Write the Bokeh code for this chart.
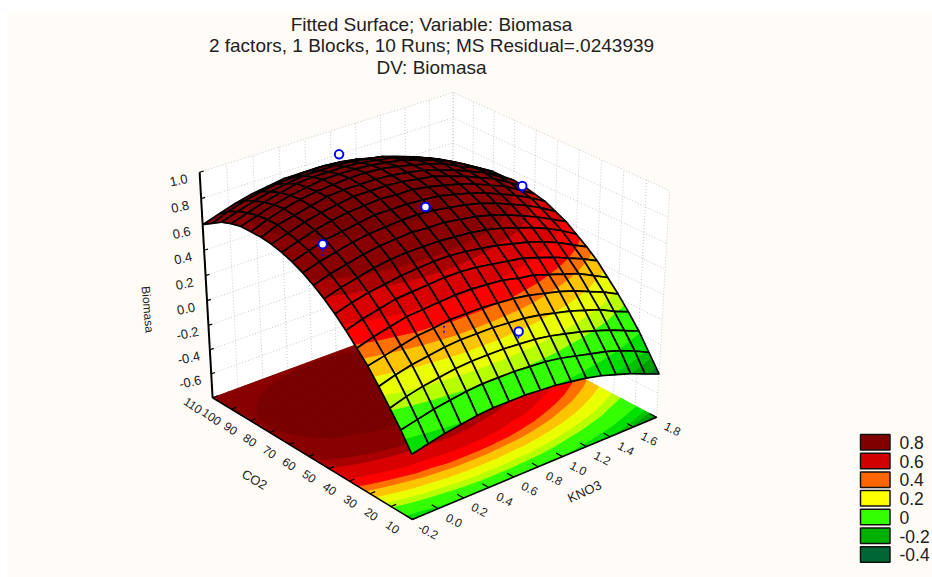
import numpy as np
from bokeh.plotting import figure
from bokeh.models import Range1d, ColumnDataSource
from bokeh.core.properties import value
from bokeh.embed import file_html
from bokeh.resources import INLINE

title_lines = ["Fitted Surface; Variable: Biomasa",
               "2 factors, 1 Blocks, 10 Runs; MS Residual=.0243939",
               "DV: Biomasa"]
kno3_ticks = [-0.2, 0.0, 0.2, 0.4, 0.6, 0.8, 1.0, 1.2, 1.4, 1.6, 1.8]
co2_ticks = [110, 100, 90, 80, 70, 60, 50, 40, 30, 20, 10]
z_ticks = [1.0, 0.8, 0.6, 0.4, 0.2, 0.0, -0.2, -0.4, -0.6]
kno3_grid = [-0.2, -0.075, 0.05, 0.175, 0.3, 0.425, 0.55, 0.675, 0.8, 0.925, 1.05, 1.175, 1.3, 1.425, 1.55, 1.675, 1.8]
co2_grid = [10, 15, 20, 25, 30, 35, 40, 45, 50, 55, 60, 65, 70, 75, 80, 85, 90, 95, 100, 105, 110]
# fitted biomass: one row per CO2 grid value, one column per KNO3 grid value
biomasa = [
 [-.28,-.25,-.22,-.20,-.18,-.17,-.17,-.17,-.18,-.19,-.21,-.23,-.26,-.30,-.34,-.39,-.44],
 [-.14,-.11,-.08,-.06,-.04,-.03,-.03,-.03,-.04,-.05,-.07,-.10,-.13,-.16,-.20,-.25,-.31],
 [-.02,.02,.05,.07,.09,.10,.10,.10,.09,.08,.06,.03,.00,-.04,-.08,-.13,-.18],
 [.10,.14,.17,.19,.21,.22,.22,.22,.21,.20,.18,.15,.12,.08,.04,-.02,-.07],
 [.21,.24,.27,.30,.31,.33,.33,.33,.32,.31,.29,.26,.23,.19,.14,.09,.03],
 [.30,.34,.37,.40,.41,.42,.43,.43,.42,.41,.38,.36,.32,.28,.24,.18,.12],
 [.39,.43,.46,.49,.50,.51,.52,.52,.51,.49,.47,.45,.41,.37,.32,.27,.21],
 [.47,.51,.54,.56,.58,.59,.60,.60,.59,.57,.55,.52,.49,.45,.40,.34,.28],
 [.54,.58,.61,.64,.66,.67,.67,.67,.66,.65,.63,.60,.56,.52,.47,.41,.34],
 [.60,.64,.67,.70,.72,.73,.74,.73,.73,.71,.69,.66,.62,.57,.52,.46,.40],
 [.65,.69,.72,.75,.77,.78,.79,.79,.78,.76,.74,.71,.67,.62,.57,.51,.44],
 [.69,.73,.77,.79,.81,.83,.83,.83,.82,.81,.78,.75,.71,.66,.61,.55,.48],
 [.72,.76,.80,.83,.85,.86,.87,.86,.86,.84,.81,.78,.74,.69,.64,.57,.50],
 [.74,.78,.82,.85,.87,.89,.89,.89,.88,.86,.84,.80,.76,.71,.66,.59,.52],
 [.75,.80,.83,.86,.89,.90,.90,.90,.89,.87,.85,.81,.77,.72,.67,.60,.53],
 [.75,.80,.84,.87,.89,.90,.91,.91,.90,.88,.85,.82,.78,.72,.67,.60,.52],
 [.75,.79,.83,.86,.88,.90,.90,.90,.89,.87,.85,.81,.77,.72,.66,.59,.52],
 [.73,.77,.81,.84,.87,.88,.88,.88,.87,.85,.83,.79,.75,.70,.64,.57,.50],
 [.70,.74,.78,.81,.83,.85,.85,.85,.84,.82,.80,.76,.72,.67,.61,.54,.47],
 [.65,.70,.74,.77,.79,.80,.81,.81,.80,.78,.75,.72,.68,.62,.57,.50,.42],
 [.60,.64,.68,.71,.73,.75,.75,.75,.74,.72,.70,.66,.62,.57,.51,.44,.37],
]
band_edges = [-.40, -.34, -.29, -.19, -.03, .05, .155, .25, .32, .42, .55, .62, .77]
band_colors = ["#007a2a", "#00a000", "#00c000", "#00e000", "#33ff00", "#b8ff00", "#eaff00",
               "#ffc400", "#ff7000", "#ff0000", "#d80000", "#a80000", "#880000", "#780000"]
legend_labels = ["0.8", "0.6", "0.4", "0.2", "0", "-0.2", "-0.4"]
legend_colors = ["#800000", "#d00000", "#ff6600", "#ffff00", "#33ff00", "#00b000", "#006633"]
pt_kno3 = [0.09, 0.82, 0.74, 1.73, 0.83]
pt_co2 = [69, 65, 102, 72, 22]
pt_z = [0.69, 0.76, 0.90, 0.57, 0.16]
stem_low = [0.60, 0.73, 0.90, 0.49, 0.08]
hidden_kno3 = [0.38]
hidden_co2 = [30]
hidden_top = [0.30]
hidden_low = [0.24]

# perspective of the box, from its corners on the page
KMIN, KMAX, CMIN, CMAX, ZMIN, ZMAX = -0.2, 1.8, 10, 110, -0.8, 1.0
corners3 = [(0, 1, 0), (0, 0, 0), (1, 0, 0), (0, 1, 1), (1, 0, 1), (1, 1, 1)]
corners2 = [(212, 397), (412, 519), (656, 417), (199, 172), (669, 190), (453, 92)]
rows, rhs = [], []
for (u, v, w), (X, Y) in zip(corners3, corners2):
    rows.append([u, v, w, 1, 0, 0, 0, 0, -X*u, -X*v, -X*w]); rhs.append(X)
    rows.append([0, 0, 0, 0, u, v, w, 1, -Y*u, -Y*v, -Y*w]); rhs.append(Y)
sol = np.linalg.lstsq(np.array(rows, float), np.array(rhs, float), rcond=None)[0]
M = np.append(sol, 1.0).reshape(3, 4)

def proj(k, c, z):
    h = M @ np.array([(k-KMIN)/(KMAX-KMIN), (c-CMIN)/(CMAX-CMIN), (z-ZMIN)/(ZMAX-ZMIN), 1.0])
    return h[0]/h[2], h[1]/h[2]

def clip(poly, level, above):
    out = []
    n = len(poly)
    for i in range(n):
        a, b = poly[i], poly[(i+1) % n]
        ia = a[2] >= level if above else a[2] <= level
        ib = b[2] >= level if above else b[2] <= level
        if ia:
            out.append(a)
        if ia != ib:
            t = (level-a[2])/(b[2]-a[2])
            out.append((a[0]+t*(b[0]-a[0]), a[1]+t*(b[1]-a[1]), level))
    return out

def band_polys(poly):
    res = []
    edges = [-9] + band_edges + [9]
    for i, col in enumerate(band_colors):
        q = clip(poly, edges[i], True)
        if len(q) >= 3:
            q = clip(q, edges[i+1], False)
        if len(q) >= 3:
            res.append((q, col))
    return res

p = figure(width=932, height=577, x_range=Range1d(0, 932), y_range=Range1d(577, 0),
           x_axis_type=None, y_axis_type=None, toolbar_location=None, output_backend="svg",
           min_border=0, background_fill_color="#fffcf8", border_fill_color="#fffcf8",
           outline_line_color=None)

# white margin of the picture
p.quad(left=[0, 0], right=[932, 7], top=[0, 0], bottom=[12, 577], fill_color="white", line_color=None)

# walls
wl = [proj(KMIN, CMAX, ZMIN), proj(KMIN, CMAX, ZMAX), proj(KMAX, CMAX, ZMAX), proj(KMAX, CMAX, ZMIN)]
wr = [proj(KMAX, CMAX, ZMIN), proj(KMAX, CMAX, ZMAX), proj(KMAX, CMIN, ZMAX), proj(KMAX, CMIN, ZMIN)]
p.patches([[a[0] for a in wl], [a[0] for a in wr]], [[a[1] for a in wl], [a[1] for a in wr]],
          fill_color="white", line_color=None)
gx, gy = [], []
for k in kno3_ticks:
    a, b = proj(k, CMAX, ZMIN), proj(k, CMAX, ZMAX)
    gx.append([a[0], b[0]]); gy.append([a[1], b[1]])
for c in co2_ticks:
    a, b = proj(KMAX, c, ZMIN), proj(KMAX, c, ZMAX)
    gx.append([a[0], b[0]]); gy.append([a[1], b[1]])
for z in z_ticks + [ZMIN]:
    a, b, d = proj(KMIN, CMAX, z), proj(KMAX, CMAX, z), proj(KMAX, CMIN, z)
    gx.append([a[0], b[0], d[0]]); gy.append([a[1], b[1], d[1]])
p.multi_line(gx, gy, line_color="#c8c8c8", line_width=1, line_dash="1 2")

Z = np.array(biomasa, float)
nc, nk = Z.shape

# floor
xs, ys, cols = [], [], []
for i in range(nc-1):
    for j in range(nk-1):
        poly = [(kno3_grid[j], co2_grid[i], Z[i, j]), (kno3_grid[j+1], co2_grid[i], Z[i, j+1]),
                (kno3_grid[j+1], co2_grid[i+1], Z[i+1, j+1]), (kno3_grid[j], co2_grid[i+1], Z[i+1, j])]
        for q, col in band_polys(poly):
            pts = [proj(a, b, ZMIN) for a, b, _ in q]
            xs.append([s[0] for s in pts]); ys.append([s[1] for s in pts]); cols.append(col)
p.patches(xs, ys, fill_color=cols, line_color=cols, line_width=1)

# axes
ax = [proj(KMIN, CMAX, ZMAX), proj(KMIN, CMAX, ZMIN), proj(KMIN, CMIN, ZMIN), proj(KMAX, CMIN, ZMIN)]
p.line([a[0] for a in ax[:2]], [a[1] for a in ax[:2]], line_color="black", line_width=2)
p.line([a[0] for a in ax[1:]], [a[1] for a in ax[1:]], line_color="black", line_width=1.5)
tx, ty = [], []
for z in z_ticks:
    a = proj(KMIN, CMAX, z); b = proj(KMIN+0.03, CMAX, z)
    tx.append([a[0], b[0]]); ty.append([a[1], b[1]])
for c in co2_ticks:
    a = proj(KMIN, c, ZMIN); b = proj(KMIN+0.04, c, ZMIN)
    tx.append([a[0], b[0]]); ty.append([a[1], b[1]])
for k in kno3_ticks:
    a = proj(k, CMIN, ZMIN); b = proj(k, CMIN+3, ZMIN)
    tx.append([a[0], b[0]]); ty.append([a[1], b[1]])
p.multi_line(tx, ty, line_color="black", line_width=1.2)

# surface, far corner first
sx, sy, fc, lc, lw, fa = [], [], [], [], [], []
for i in range(nc-2, -1, -1):
    for j in range(nk-2, -1, -1):
        poly = [(kno3_grid[j], co2_grid[i], Z[i, j]), (kno3_grid[j+1], co2_grid[i], Z[i, j+1]),
                (kno3_grid[j+1], co2_grid[i+1], Z[i+1, j+1]), (kno3_grid[j], co2_grid[i+1], Z[i+1, j])]
        for q, col in band_polys(poly):
            pts = [proj(*a) for a in q]
            sx.append([s[0] for s in pts]); sy.append([s[1] for s in pts])
            fc.append(col); lc.append(col); lw.append(0.8); fa.append(1.0)
        pts = [proj(*a) for a in poly]
        sx.append([s[0] for s in pts]); sy.append([s[1] for s in pts])
        fc.append("#000000"); lc.append("#000000"); lw.append(1.7); fa.append(0.0)
p.patches("xs", "ys", source=ColumnDataSource(dict(xs=sx, ys=sy, fc=fc, lc=lc, lw=lw, fa=fa)),
          fill_color="fc", line_color="lc", line_width="lw", fill_alpha="fa")

# observed points
stx, sty = [], []
for k, c, z0, z1 in list(zip(pt_kno3, pt_co2, pt_z, stem_low)) + list(zip(hidden_kno3, hidden_co2, hidden_top, hidden_low)):
    a, b = proj(k, c, z0), proj(k, c, z1)
    stx.append([a[0], b[0]]); sty.append([a[1], b[1]])
p.multi_line(stx, sty, line_color="#0000ff", line_width=1.5, line_dash="2 3")
pp = [proj(k, c, z) for k, c, z in zip(pt_kno3, pt_co2, pt_z)]
p.scatter([a[0] for a in pp], [a[1] for a in pp], marker="circle", size=8.5, fill_color="white",
          line_color="#0000ff", line_width=2)

def texts(x, y, t, size, angle=0, align="center", color="#222222"):
    p.text(x=x, y=y, text=t, angle=angle, angle_units="deg", text_align=align, text_baseline="middle",
           text_font=value("Liberation Sans"), text_font_size=size, text_color=color)

texts([431, 431, 431], [24, 45, 67], title_lines, "19px")
a = [proj(KMIN, CMAX, z) for z in z_ticks]
texts([q[0]-21 for q in a], [q[1]+8 for q in a], [f"{z:.1f}" for z in z_ticks], "13px", angle=12)
a = [proj(KMIN, c, ZMIN) for c in co2_ticks]
texts([q[0]-19.5 for q in a], [q[1]+7.5 for q in a], [str(c) for c in co2_ticks], "12px", angle=-35)
a = [proj(k, CMIN, ZMIN) for k in kno3_ticks]
texts([q[0]+16 for q in a], [q[1]+11.5 for q in a], [f"{k:.1f}" for k in kno3_ticks], "12px", angle=-27)
texts([254], [479], ["CO2"], "13px", angle=-30)
texts([584], [491], ["KNO3"], "13px", angle=25)
texts([147], [309], ["Biomasa"], "12px", angle=-85)

# legend
for i, (lab, col) in enumerate(zip(legend_labels, legend_colors)):
    y0 = 434 + i*18.7
    p.quad(left=[860], right=[889.5], top=[y0], bottom=[y0+15.5], fill_color=col, line_color="#111111", line_width=1.5)
    texts([899], [y0+8], [lab], "17.5px", align="left")

open("out.html", "w").write(file_html(p, INLINE))
